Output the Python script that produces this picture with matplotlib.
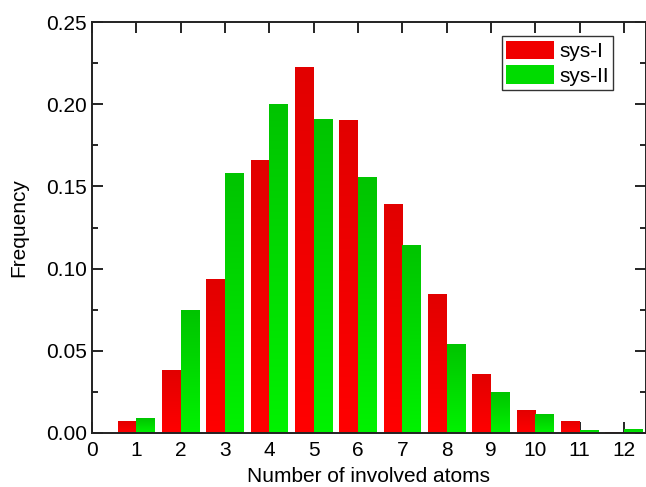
import numpy as np
import matplotlib
matplotlib.use('Agg')
import matplotlib.pyplot as plt
from matplotlib.colors import LinearSegmentedColormap
from matplotlib.ticker import MultipleLocator
from matplotlib.patches import Patch

# number of involved atoms
atoms = [1, 2, 3, 4, 5, 6, 7, 8, 9, 10, 11, 12]
freq_sys1 = [0.0070, 0.0383, 0.0937, 0.1663, 0.2228, 0.1906, 0.1395, 0.0847, 0.0361, 0.0142, 0.0075, 0.0008]
freq_sys2 = [0.0091, 0.0748, 0.1583, 0.2003, 0.1912, 0.1559, 0.1146, 0.0543, 0.0251, 0.0118, 0.0020, 0.0026]
xticks = list(range(0, 13))

plt.rcParams['font.family'] = ['Liberation Sans', 'DejaVu Sans']
plt.rcParams['font.size'] = 15

red_cm = LinearSegmentedColormap.from_list('r', ['#ff0000', '#e20000'])
green_cm = LinearSegmentedColormap.from_list('g', ['#00f200', '#00c400'])

fig = plt.figure(figsize=(6.46, 4.87), dpi=100)
ax = fig.add_axes([0.1424, 0.1109, 0.8576, 0.8439])

w = 0.42
b1 = ax.bar(atoms, freq_sys1, width=-w, align='edge', color='none', label='sys-I')
b2 = ax.bar(atoms, freq_sys2, width=w, align='edge', color='none', label='sys-II')

# vertical gradient in each bar, darker at the top
grad = np.linspace(0, 1, 64).reshape(-1, 1)
for bars, cm in ((b1, red_cm), (b2, green_cm)):
    for p in bars:
        x0, y0 = p.get_x(), p.get_y()
        x1, y1 = x0 + p.get_width(), y0 + p.get_height()
        im = ax.imshow(grad, cmap=cm, extent=[min(x0, x1), max(x0, x1), y0, y1],
                       origin='lower', aspect='auto', interpolation='bilinear', zorder=2)
        im.set_clip_path(p)

ax.set_xlim(0, 12.5)
ax.set_ylim(0, 0.25)
ax.set_xticks(xticks)
ax.yaxis.set_major_locator(MultipleLocator(0.05))
ax.yaxis.set_minor_locator(MultipleLocator(0.025))
ax.yaxis.set_major_formatter(plt.FormatStrFormatter('%.2f'))
ax.tick_params(direction='in', top=True, right=True, length=8, width=1.2, labelsize=15)
ax.tick_params(which='minor', direction='in', right=True, length=4.5, width=1.2)
ax.tick_params(axis='x', pad=6)
for s in ax.spines.values():
    s.set_linewidth(1.4)
    s.set_color('#222222')

ax.set_xlabel('Number of involved atoms', fontsize=15, labelpad=5)
ax.set_ylabel('Frequency', fontsize=15, labelpad=13)

handles = [Patch(facecolor='#f00000', edgecolor='none'),
           Patch(facecolor='#00dc00', edgecolor='none')]
leg = ax.legend(handles, ['sys-I', 'sys-II'], loc='upper right',
                bbox_to_anchor=(0.94, 0.965), fancybox=False, framealpha=1,
                edgecolor='#333333', handlelength=2.3, handleheight=1.0,
                labelspacing=0.2, handletextpad=0.25, borderpad=0.2,
                borderaxespad=0, fontsize=15)
leg.get_frame().set_linewidth(1.0)

fig.savefig('out.png', dpi=100)
